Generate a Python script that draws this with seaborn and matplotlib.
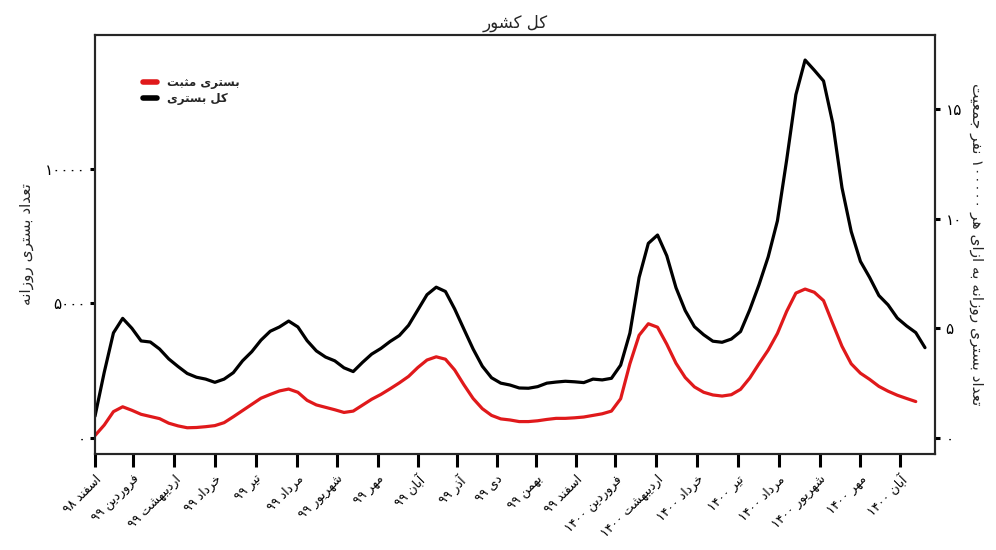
import numpy as np
import pandas as pd
import matplotlib
matplotlib.use("Agg")
import matplotlib.pyplot as plt
import seaborn as sns

# ---------------- data ----------------
title = "کل کشور"
series_names = ["بستری مثبت", "کل بستری"]
left_ylabel = "تعداد بستری روزانه"
right_ylabel = "تعداد بستری روزانه به ازای هر ۱۰۰۰۰۰ نفر جمعیت"

month_starts = ["2020-02-20", "2020-03-20", "2020-04-20", "2020-05-21", "2020-06-21",
                "2020-07-22", "2020-08-22", "2020-09-22", "2020-10-22", "2020-11-21",
                "2020-12-21", "2021-01-20", "2021-02-19", "2021-03-21", "2021-04-21",
                "2021-05-22", "2021-06-22", "2021-07-23", "2021-08-23", "2021-09-23",
                "2021-10-23"]
month_labels = ["اسفند ۹۸", "فروردین ۹۹", "اردیبهشت ۹۹", "خرداد ۹۹", "تیر ۹۹",
                "مرداد ۹۹", "شهریور ۹۹", "مهر ۹۹", "آبان ۹۹", "آذر ۹۹", "دی ۹۹",
                "بهمن ۹۹", "اسفند ۹۹", "فروردین ۱۴۰۰", "اردیبهشت ۱۴۰۰", "خرداد ۱۴۰۰",
                "تیر ۱۴۰۰", "مرداد ۱۴۰۰", "شهریور ۱۴۰۰", "مهر ۱۴۰۰", "آبان ۱۴۰۰"]

left_ticks = [0, 5000, 10000]
left_tick_labels = ["۰", "۵۰۰۰", "۱۰۰۰۰"]
right_ticks = [0, 5, 10, 15]
right_tick_labels = ["۰", "۵", "۱۰", "۱۵"]
population = 81_400_000

start_date = "2020-02-20"
step_days = 7

# weekly readings, daily hospitalisations (7-day smoothed)
total_beds = [800, 2430, 3900, 4440, 4070, 3600, 3560, 3300, 2930, 2650,
              2390, 2250, 2180, 2060, 2180, 2420, 2860, 3200, 3630, 3960,
              4120, 4340, 4120, 3610, 3230, 3000, 2860, 2600, 2460, 2800,
              3110, 3320, 3580, 3800, 4180, 4750, 5320, 5600, 5440, 4790,
              4040, 3300, 2660, 2230, 2030, 1960, 1850, 1840, 1900, 2030,
              2070, 2100, 2080, 2050, 2180, 2150, 2210, 2700, 3890, 5960,
              7230, 7540, 6770, 5580, 4730, 4130, 3830, 3590, 3550, 3670,
              3950, 4760, 5690, 6730, 8070, 10330, 12760, 14050, 13670, 13270,
              11700, 9300, 7670, 6560, 5960, 5290, 4940, 4450, 4160, 3910,
              3350]
positive_beds = [80, 470, 970, 1150, 1020, 870, 790, 710, 540, 440,
                 370, 380, 410, 450, 560, 780, 1010, 1240, 1470, 1610,
                 1740, 1810, 1690, 1390, 1220, 1130, 1040, 940, 990, 1210,
                 1430, 1610, 1820, 2040, 2280, 2610, 2890, 3010, 2920, 2520,
                 1970, 1460, 1080, 830, 700, 660, 600, 600, 630, 680,
                 720, 720, 740, 770, 830, 890, 990, 1450, 2750, 3810,
                 4240, 4110, 3480, 2770, 2240, 1890, 1690, 1590, 1550, 1600,
                 1800, 2220, 2750, 3260, 3880, 4700, 5380, 5530, 5410, 5100,
                 4240, 3400, 2750, 2400, 2170, 1910, 1730, 1580, 1460, 1345]

# ---------------- Persian shaping (presentation forms + RTL order) ----------------
FORMS = {  # isolated, final, initial, medial
    "ا": ("\uFE8D", "\uFE8E", None, None),
    "آ": ("\uFE81", "\uFE82", None, None),
    "ب": ("\uFE8F", "\uFE90", "\uFE91", "\uFE92"),
    "ت": ("\uFE95", "\uFE96", "\uFE97", "\uFE98"),
    "ث": ("\uFE99", "\uFE9A", "\uFE9B", "\uFE9C"),
    "ج": ("\uFE9D", "\uFE9E", "\uFE9F", "\uFEA0"),
    "خ": ("\uFEA5", "\uFEA6", "\uFEA7", "\uFEA8"),
    "د": ("\uFEA9", "\uFEAA", None, None),
    "ذ": ("\uFEAB", "\uFEAC", None, None),
    "ر": ("\uFEAD", "\uFEAE", None, None),
    "ز": ("\uFEAF", "\uFEB0", None, None),
    "س": ("\uFEB1", "\uFEB2", "\uFEB3", "\uFEB4"),
    "ش": ("\uFEB5", "\uFEB6", "\uFEB7", "\uFEB8"),
    "ع": ("\uFEC9", "\uFECA", "\uFECB", "\uFECC"),
    "ف": ("\uFED1", "\uFED2", "\uFED3", "\uFED4"),
    "ک": ("\uFB8E", "\uFB8F", "\uFB90", "\uFB91"),
    "ل": ("\uFEDD", "\uFEDE", "\uFEDF", "\uFEE0"),
    "م": ("\uFEE1", "\uFEE2", "\uFEE3", "\uFEE4"),
    "ن": ("\uFEE5", "\uFEE6", "\uFEE7", "\uFEE8"),
    "ه": ("\uFEE9", "\uFEEA", "\uFEEB", "\uFEEC"),
    "و": ("\uFEED", "\uFEEE", None, None),
    "ی": ("\uFBFC", "\uFBFD", "\uFBFE", "\uFBFF"),
}


def shape_word(w):
    out = []
    n = len(w)
    for i, ch in enumerate(w):
        if ch not in FORMS:
            out.append(ch)
            continue
        prev_j = i > 0 and w[i - 1] in FORMS and FORMS[w[i - 1]][2] is not None
        next_j = (i < n - 1 and w[i + 1] in FORMS and FORMS[ch][2] is not None)
        f = FORMS[ch]
        if prev_j and next_j:
            out.append(f[3])
        elif prev_j:
            out.append(f[1])
        elif next_j:
            out.append(f[2])
        else:
            out.append(f[0])
    return "".join(out)


def fa(text):
    tokens = text.split(" ")
    vis = []
    for t in tokens:
        if all(c in "۰۱۲۳۴۵۶۷۸۹0123456789" for c in t):
            vis.append(t)
        else:
            vis.append(shape_word(t)[::-1])
    return " ".join(vis[::-1])


# ---------------- figure ----------------
sns.set_style("ticks")
plt.rcParams["font.family"] = ["DejaVu Sans"]

fig = plt.figure(figsize=(9.96, 5.5), dpi=100)
ax = fig.add_axes([95 / 996, 1 - 454 / 550, 840 / 996, 419 / 550])

d_total = pd.DataFrame({"date": pd.date_range(start_date, periods=len(total_beds), freq=f"{step_days}D"),
                        "value": total_beds})
d_pos = pd.DataFrame({"date": pd.date_range(start_date, periods=len(positive_beds), freq=f"{step_days}D"),
                      "value": positive_beds})

red = "#e0191b"
sns.lineplot(data=d_total, x="date", y="value", ax=ax, color="black", lw=2.3)
sns.lineplot(data=d_pos, x="date", y="value", ax=ax, color=red, lw=2.3)

t0 = pd.Timestamp(start_date)
ax.set_xlim(t0, t0 + pd.Timedelta(days=637.6))
ylo, yhi = -606, 14981
ax.set_ylim(ylo, yhi)

ax.set_xticks(pd.to_datetime(month_starts))
ax.set_xticklabels([fa(l) for l in month_labels], rotation=45, ha="right",
                   rotation_mode="anchor", fontsize=9)
ax.set_yticks(left_ticks)
ax.set_yticklabels(left_tick_labels, fontsize=11)
ax.set_xlabel("")
ax.set_ylabel(fa(left_ylabel), fontsize=11, labelpad=8)
ax.set_title(fa(title), fontsize=12, pad=5)

for s in ax.spines.values():
    s.set_visible(True)
    s.set_linewidth(1.5)
    s.set_color("black")
ax.tick_params(axis="x", length=9.5, width=2.2, pad=4, colors="black")
ax.tick_params(axis="y", length=3.6, width=2.2, pad=3, colors="black")

ax2 = ax.twinx()
k = 1e5 / population
ax2.set_ylim(ylo * k, yhi * k)
ax2.set_yticks(right_ticks)
ax2.set_yticklabels(right_tick_labels, fontsize=11)
ax2.tick_params(axis="y", length=3.6, width=2.2, pad=4, colors="black")
ax2.set_ylabel(fa(right_ylabel), fontsize=11, rotation=-90, labelpad=16)
for s in ax2.spines.values():
    s.set_linewidth(1.5)

handles = [plt.Line2D([], [], color=red, lw=4), plt.Line2D([], [], color="black", lw=4)]
leg = ax.legend(handles, [fa(n) for n in series_names], loc="upper left",
                bbox_to_anchor=((143 - 95) / 840, 1 - (76 - 35) / 419),
                frameon=False, borderpad=0, borderaxespad=0, handlelength=1.2,
                handletextpad=0.8, labelspacing=0.25,
                prop={"size": 8.5, "weight": "bold"})

fig.savefig("out.png", dpi=100)
